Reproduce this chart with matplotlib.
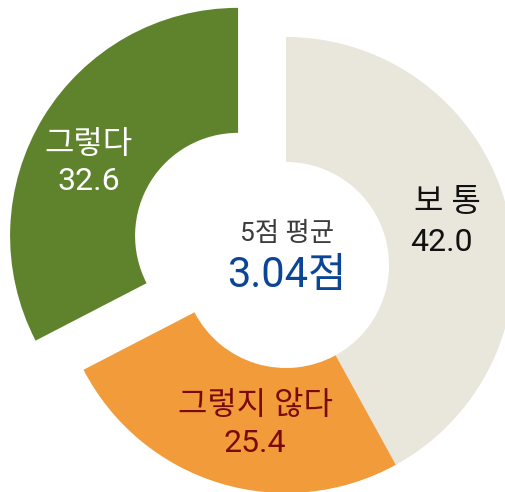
import matplotlib
matplotlib.use("Agg")
import matplotlib.pyplot as plt

# Survey response shares (%)
categories = ["보 통", "그렇지 않다", "그렇다"]
values = [42.0, 25.4, 32.6]
value_labels = ["42.0", "25.4", "32.6"]
avg_title = "5점 평균"
avg_value = "3.04점"

# Styling
colors = ["#E9E6DC", "#F19B3A", "#5F832D"]
label_colors = ["#111111", "#7A0A0A", "#FFFFFF"]
explode = [0, 0, 0.246]

plt.rcParams['font.family'] = ['Roboto', 'Noto Sans CJK KR', 'DejaVu Sans']

W, H = 506, 492
CX, CY, R = 286, 265, 228          # ring centre and outer radius in pixels
RING = 125                          # ring thickness in pixels

fig = plt.figure(figsize=(W / 100, H / 100), dpi=100)
ax = fig.add_axes([0, 0, 1, 1])
ax.pie(values, colors=colors, startangle=90, counterclock=False, radius=1,
       explode=explode, wedgeprops=dict(width=RING / R, linewidth=0))
ax.set_aspect('equal')
ax.set_xlim(-CX / R, (W - CX) / R)
ax.set_ylim(-(H - CY) / R, CY / R)
ax.axis('off')


def at(xp, yp):
    """Pixel position (origin top-left) to data coordinates."""
    return (xp - CX) / R, (CY - yp) / R


# label anchor points: (name x, name y, value x, value y)
label_pos = [(447, 203, 441, 243),
             (255, 405, 255, 444),
             (88, 145, 89, 182)]

for name, val, col, (nx, ny, vx, vy) in zip(categories, value_labels,
                                            label_colors, label_pos):
    ax.text(*at(nx, ny), name, ha='center', va='center', fontsize=23, color=col)
    ax.text(*at(vx, vy), val, ha='center', va='center', fontsize=23, color=col)

ax.text(*at(287, 234), avg_title, ha='center', va='center', fontsize=19,
        color='#3C3C3C')
ax.text(*at(287, 275), avg_value, ha='center', va='center', fontsize=30,
        color='#0B4596')

fig.savefig('out.png', dpi=100)
